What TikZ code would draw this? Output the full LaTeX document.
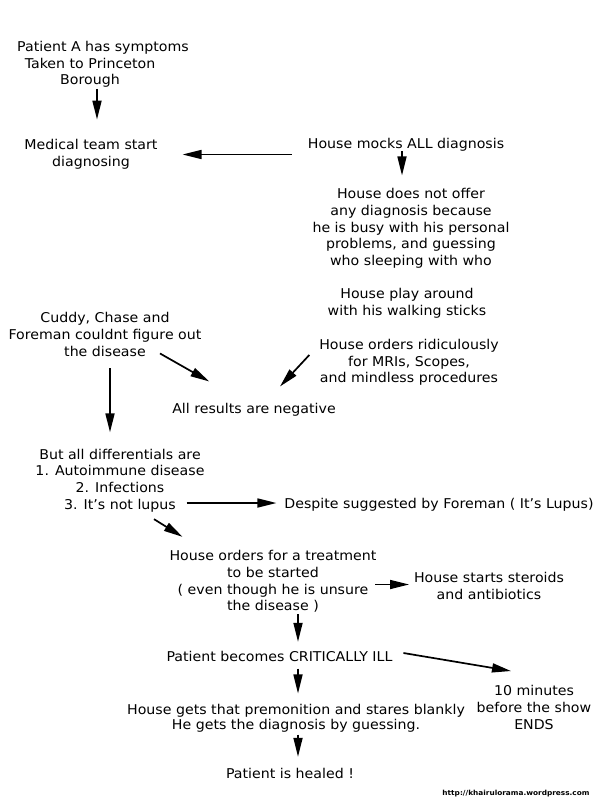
\documentclass[tikz,border=0pt]{standalone}
\usepackage{fontspec}
\setmainfont{DejaVu Sans}[FakeStretch=1.05]
\usetikzlibrary{arrows.meta}

\begin{document}
\begin{tikzpicture}[x=1pt, y=-1pt,
				note/.style={align=center, inner sep=0pt, outer sep=0pt, font=\fontsize{13.5}{16.75}\selectfont},
				tight/.style={note, font=\fontsize{13.5}{15}\selectfont},
				arr/.style={-{Triangle[length=19pt,width=9pt]}, line width=1.7pt}]

				\useasboundingbox (0,0) rectangle (600,800);

				\node (start) [note] at (90,64.5) {\hspace*{26pt}Patient A has symptoms\\Taken to Princeton\\Borough};
				\node (med) [note] at (91,154.5) {Medical team start\\diagnosing};
				\node (mocks) [note] at (406,144.5) {House mocks ALL diagnosis};
				\node (notoffer) [note] at (411,228.5) {House does not offer\\any diagnosis because\\he is busy with his personal\\problems, and guessing\\who sleeping with who};
				\node (play) [note] at (407,303) {House play around\\with his walking sticks};
				\node (orders) [note] at (409,362.5) {House orders ridiculously\\for MRIs, Scopes,\\and mindless procedures};
				\node (cuddy) [note] at (105,334.5) {Cuddy, Chase and\\Foreman couldnt figure out\\the disease};
				\node (neg) [note] at (254,409.5) {All results are negative};
				\node (diff) [note] at (120,480.5) {But all differentials are\\1. Autoimmune disease\\2. Infections\\3. It’s not lupus};
				\node (lupus) [note] at (439,504.5) {Despite suggested by Foreman ( It’s Lupus)};
				\node (treat) [note] at (273,581.5) {House orders for a treatment\\to be started\\( even though he is unsure\\the disease )};
				\node (steroid) [note] at (489,586) {House starts steroids\\and antibiotics};
				\node (crit) [note] at (279.5,656.5) {Patient becomes CRITICALLY ILL};
				\node (ten) [note] at (534,707.5) {10 minutes\\before the show\\ENDS};
				\node (prem) [tight] at (296,718) {House gets that premonition and stares blankly\\He gets the diagnosis by guessing.};
				\node (healed) [note] at (290,773.5) {Patient is healed !};
				\node (url) [inner sep=0pt, font=\bfseries\fontsize{7}{8}\selectfont] at (516,794) {http://khairulorama.wordpress.com};

				\draw [arr] ([shift={(7,1)}]start.south) -- ([shift={(7,-20)}]start.south |- med.north);
				\draw [arr] ([shift={(-16,0)}]mocks.west |- med.east) -- ([shift={(25,0)}]med.east);
				\draw [arr] ([shift={(-4,0)}]mocks.south) -- ([shift={(-4,-13)}]mocks.south |- notoffer.north);
				\draw [arr] ([shift={(-10,-7.5)}]orders.west) -- ([shift={(26,-16.5)}]neg.north);
				\draw [arr] ([shift={(55,-3)}]cuddy.south) -- ([shift={(37,-21.5)}]neg.north west);
				\draw [arr] ([shift={(5,12)}]cuddy.south) -- ([shift={(5,-16.5)}]cuddy.south |- diff.north);
				\draw [arr] ([shift={(-18,-1.5)}]diff.east |- lupus.west) -- ([shift={(-8,-1.5)}]lupus.west);
				\draw [arr] ([shift={(34,7)}]diff.south) -- ([shift={(13,-13.5)}]treat.north west);
				\draw [arr] ([shift={(-1,-1.5)}]treat.east |- steroid.west) -- ([shift={(-5,-1.5)}]steroid.west);
				\draw [arr] ([shift={(25,1.5)}]treat.south) -- ([shift={(18.5,-9.5)}]crit.north);
				\draw [arr] ([shift={(11,-3.5)}]crit.east) -- ([shift={(-23,-14.5)}]ten.north);
				\draw [arr] ([shift={(18.5,7)}]crit.south) -- ([shift={(2,-10.5)}]prem.north);
				\draw [arr] ([shift={(2,2.5)}]prem.south) -- ([shift={(8,-11.5)}]healed.north);
			\end{tikzpicture}
\end{document}
